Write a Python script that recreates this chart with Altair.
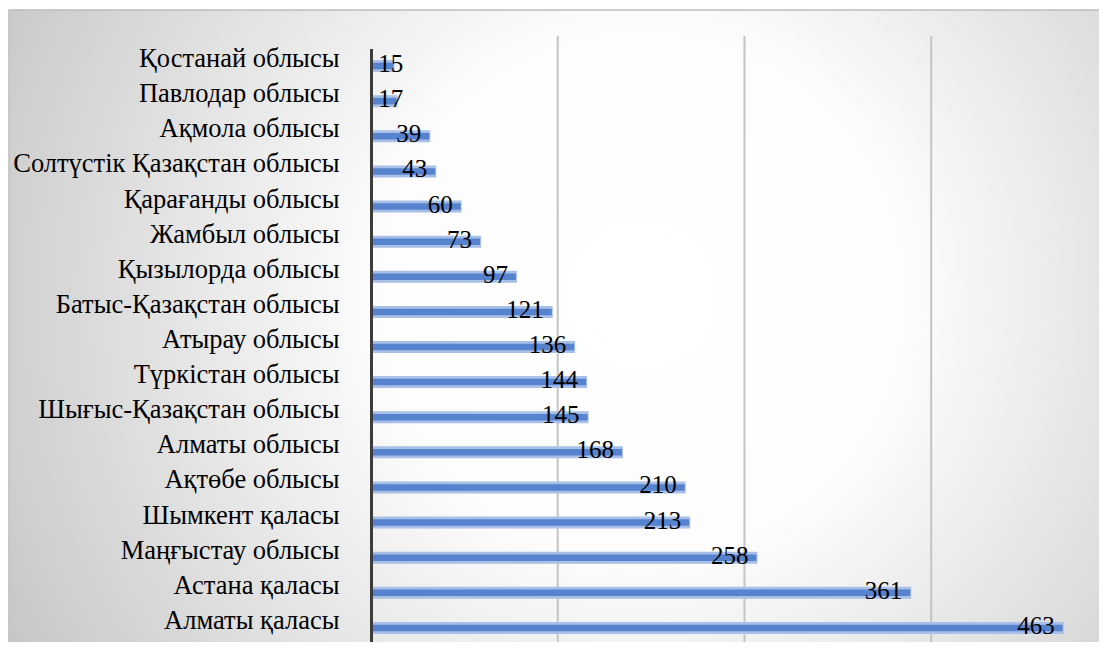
import altair as alt
import pandas as pd

categories = [
    "Қостанай облысы", "Павлодар облысы", "Ақмола облысы",
    "Солтүстік Қазақстан облысы", "Қарағанды облысы\u00a0", "Жамбыл облысы",
    "Қызылорда облысы", "Батыс-Қазақстан облысы", "Атырау облысы",
    "Түркістан облысы\u00a0", "Шығыс-Қазақстан облысы", "Алматы облысы\u00a0",
    "Ақтөбе облысы", "Шымкент қаласы", "Маңғыстау облысы", "Астана қаласы",
    "Алматы қаласы",
]
values = [15, 17, 39, 43, 60, 73, 97, 121, 136, 144, 145, 168, 210, 213, 258, 361, 463]
grid_values = [125, 250, 375]

df = pd.DataFrame({"cat": categories, "v": values})

W, H = 726, 606
xscale = alt.Scale(domain=[0, 486], nice=False, zero=True)
yscale = alt.Scale(domain=categories, range=[12.44, 609.56], paddingInner=0, paddingOuter=0)

bg = alt.Chart(pd.DataFrame({"a": [0]})).mark_rect(
    fill={
        "gradient": "radial",
        "x1": 0.58, "y1": 0.47, "r1": 0.0,
        "x2": 0.58, "y2": 0.47, "r2": 0.72,
        "stops": [
            {"offset": 0.0, "color": "#ffffff"},
            {"offset": 0.33, "color": "#fdfdfd"},
            {"offset": 1.0, "color": "#bfbfbf"},
        ],
    },
    stroke="#bdbdbd", strokeWidth=1.5,
).encode(
    x=alt.value(-362), x2=alt.value(W + 4), y=alt.value(-26), y2=alt.value(H + 4)
)

grid = alt.Chart(pd.DataFrame({"g": grid_values})).mark_rule(
    color="#c4c4c4", strokeWidth=2
).encode(x=alt.X("g:Q", scale=xscale, axis=None))

base = alt.Chart(df)

halo = base.mark_bar(size=10, color="#a8bfe8", stroke="#a8bfe8", strokeWidth=2).encode(
    x=alt.X("v:Q", scale=xscale, axis=None),
    y=alt.Y("cat:N", scale=yscale, sort=categories,
            axis=alt.Axis(title=None, ticks=False, domainColor="#3c3c3c", domainWidth=3,
                          labelFont="Liberation Serif", labelFontSize=26.5, labelColor="#000000",
                          labelPadding=32, labelOffset=-7, labelLimit=400, grid=False, zindex=1)),
)

core = base.mark_bar(size=6.5, color="#5782cd").encode(
    x=alt.X("v:Q", scale=xscale, axis=None),
    y=alt.Y("cat:N", scale=yscale, sort=categories),
)

labels = base.transform_calculate(lx="max(datum.v, 27)").mark_text(
    align="right", baseline="middle", dx=-8, dy=-2,
    font="Liberation Serif", fontSize=25, color="#000000",
).encode(
    x=alt.X("lx:Q", scale=xscale, axis=None),
    y=alt.Y("cat:N", scale=yscale, sort=categories),
    text=alt.Text("v:Q"),
)

chart = alt.layer(bg, grid, halo, core, labels).properties(
    width=W, height=H,
    autosize=alt.AutoSizeParams(type="none"),
    padding={"left": 363, "top": 28, "right": 2, "bottom": 0},
).configure_view(stroke=None)

chart.save("out.html", embed_options={"renderer": "svg", "actions": False})
